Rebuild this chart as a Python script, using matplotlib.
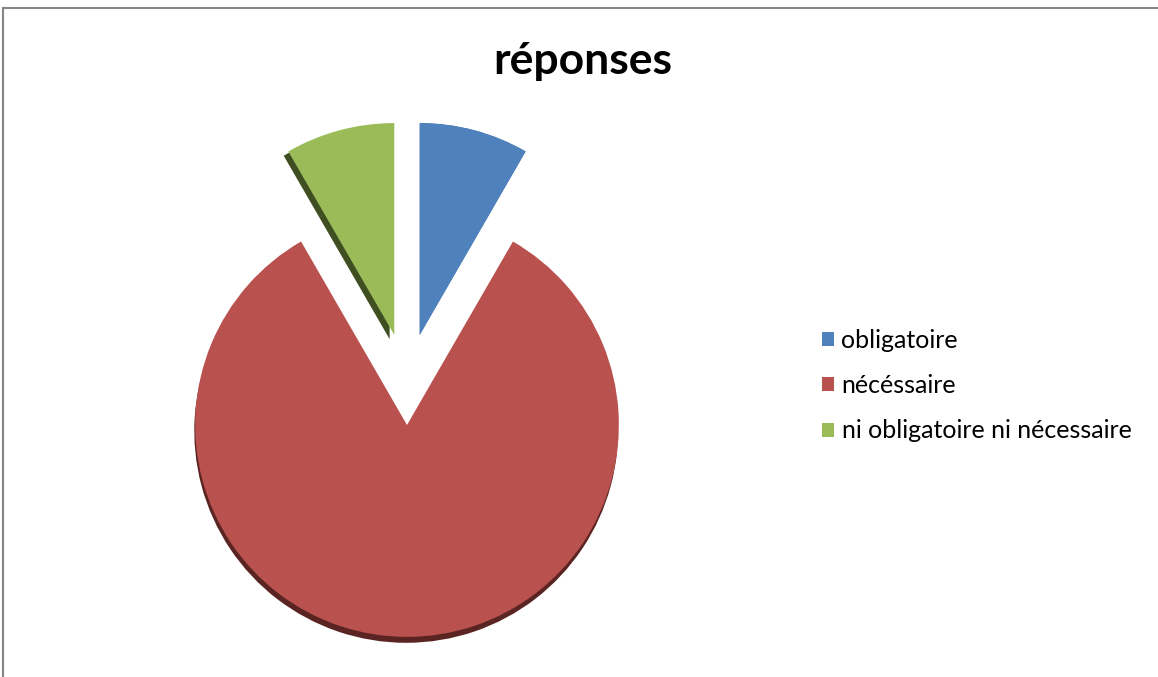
import matplotlib.pyplot as plt
from matplotlib.patches import Rectangle

labels = ['obligatoire', 'nécéssaire', 'ni obligatoire ni nécessaire']
values = [1, 10, 1]
colors = ['#4F81BD', '#B9514E', '#9BBB59']
dark = ['#4A79B0', '#5A2422', '#3F4F22']
# pulled-out slices: shift (x, y) in pie radii
offsets = [(0.06, 0.425), (0, 0), (-0.06, 0.425)]
# where the darker side of each slab shows
depth = [(0, 0), (-0.004, -0.028), (-0.022, -0.02)]

plt.rcParams['font.family'] = ['Lato', 'DejaVu Sans']

fig = plt.figure(figsize=(11.58, 6.77), dpi=100)

# pie centre and size in pixels
cx, cy, half = 407, 425, 250
ax = fig.add_axes([(cx - half) / 1158, (677 - cy - half) / 677, 2 * half / 1158, 2 * half / 677])

shadow, _ = ax.pie(values, colors=dark, startangle=90, counterclock=False, radius=1)
wedges, _ = ax.pie(values, colors=colors, startangle=90, counterclock=False, radius=1)
for i, (dx, dy) in enumerate(offsets):
    shadow[i].set_center((dx + depth[i][0], dy + depth[i][1]))
    wedges[i].set_center((dx, dy))
for w in list(shadow) + list(wedges):
    w.set_clip_on(False)
    w.set_linewidth(0)

ax.set_xlim(-1.18, 1.18)
ax.set_ylim(-1.18, 1.18)
ax.set_aspect('equal')
ax.axis('off')

fig.text(0.503, 1 - 61 / 677, 'réponses', ha='center', va='center',
         fontsize=32, fontweight='bold')

fig.legend(wedges, labels, loc='upper left', bbox_to_anchor=(799 / 1158, 1 - 306 / 677),
           frameon=False, fontsize=18, handlelength=0.5, handleheight=0.5,
           handletextpad=0.3, labelspacing=0.9)

# chart area border
fig.patches.append(Rectangle((3 / 1158, -0.1), 1.2, 1 - 8 / 677 + 0.1,
                             transform=fig.transFigure, fill=False,
                             edgecolor='#868686', linewidth=1.5))

fig.savefig('out.png', dpi=100)
